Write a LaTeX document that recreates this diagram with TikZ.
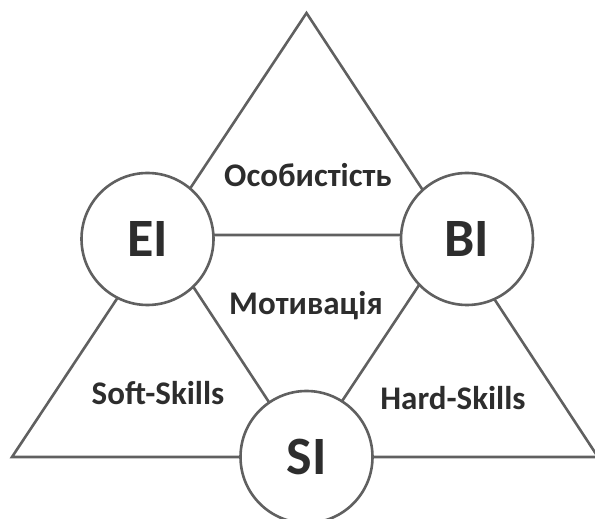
\documentclass[tikz,border=0pt]{standalone}
\usepackage{fontspec}
\setmainfont{Carlito}
\definecolor{linegray}{RGB}{96,96,96}
\definecolor{textgray}{RGB}{45,45,45}
\begin{document}
\begin{tikzpicture}[x=1pt,y=1pt,
  edge/.style={draw=linegray,line width=2.6pt,line join=miter},
  bubble/.style={circle,draw=linegray,line width=2.6pt,fill=white,minimum size=132pt,inner sep=0pt,
    text=textgray,font=\fontsize{54}{54}\selectfont\bfseries},
  area/.style={text=textgray,font=\fontsize{33}{33}\selectfont\bfseries,anchor=base,inner sep=0pt}]
\useasboundingbox (0,0) rectangle (595,519);
\coordinate (A) at (306.5,506);
\coordinate (B) at (12,62);
\coordinate (C) at (598,62);
\coordinate (mAB) at (159.25,284);
\coordinate (mAC) at (452.25,284);
\coordinate (mBC) at (305,62);
\draw[edge] (A) -- (B) -- (C) -- cycle;
\draw[edge] (mAB) -- (mAC) -- (mBC) -- cycle;
\node[bubble] (EI) at (147.5,280) {EI};
\node[bubble] (BI) at (467,280) {BI};
\node[bubble] (SI) at (306.5,62) {SI};
\node[area] (pers) at (308,332) {Особистість};
\node[area] (motiv) at (306,204) {Мотивація};
\node[area] (soft) at (158,114) {Soft-Skills};
\node[area] (hard) at (453,109) {Hard-Skills};
\end{tikzpicture}
\end{document}
